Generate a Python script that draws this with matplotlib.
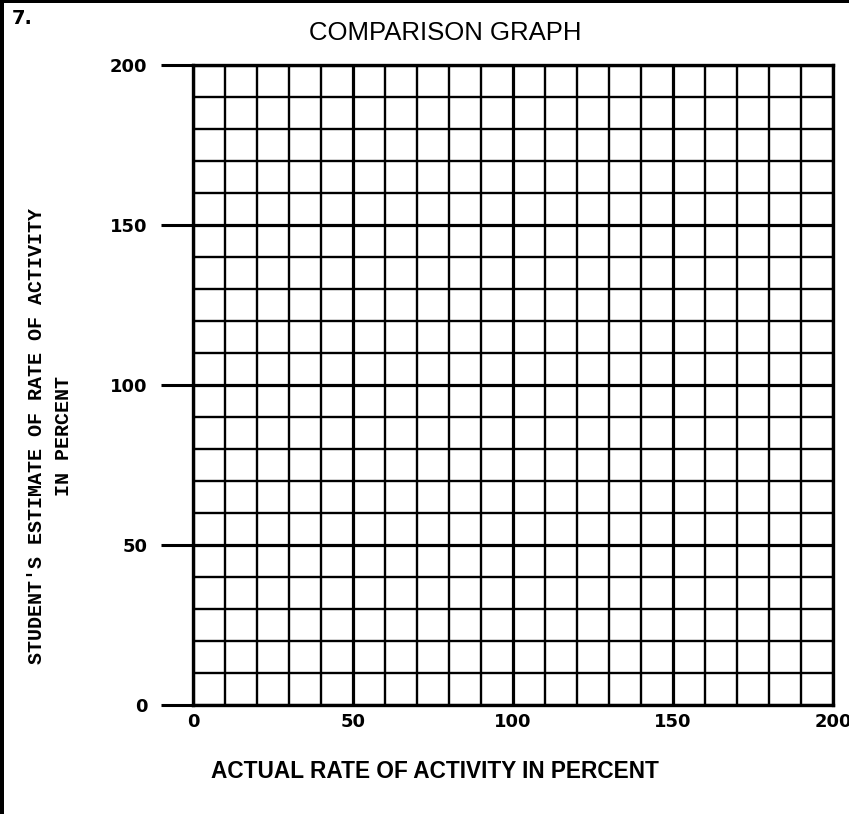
import numpy as np
import matplotlib.pyplot as plt
from matplotlib.patches import Rectangle

# Ejes y marcas del papel cuadriculado
x_major = [0, 50, 100, 150, 200]
y_major = [0, 50, 100, 150, 200]
x_minor = list(range(0, 201, 10))
y_minor = list(range(0, 201, 10))
x_labels = ["0", "50", "100", "150", "200"]
y_labels = ["0", "50", "100", "150", "200"]

title = "COMPARISON GRAPH"
xlabel = "ACTUAL RATE OF ACTIVITY IN PERCENT"
ylabel = "STUDENT'S ESTIMATE OF RATE OF ACTIVITY\nIN PERCENT"
number = "7."

W, H = 849, 814
fig = plt.figure(figsize=(W / 100, H / 100), dpi=100)
ax = fig.add_axes([193 / W, 1 - 705 / H, 640 / W, 640 / H])

ax.set_xlim(x_major[0], x_major[-1])
ax.set_ylim(y_major[0], y_major[-1])
ax.set_xticks(x_major, x_labels)
ax.set_yticks(y_major, y_labels)
ax.set_xticks(x_minor, minor=True)
ax.set_yticks(y_minor, minor=True)

ax.grid(which='minor', color='black', lw=1.7)
ax.grid(which='major', color='black', lw=2.3)
ax.set_axisbelow(False)

ax.tick_params(axis='x', which='both', length=0, pad=6, labelsize=13)
ax.tick_params(axis='y', which='major', length=23, width=2.2, pad=10,
               labelsize=13)
ax.tick_params(axis='y', which='minor', length=0)
for lab in ax.get_xticklabels() + ax.get_yticklabels():
    lab.set_fontweight('bold')
for sp in ax.spines.values():
    sp.set_linewidth(2.4)

# Textos
fig.text(445 / W, 1 - 33 / H, title, ha='center', va='center',
         fontsize=18.5, family='Liberation Sans')
fig.text(435 / W, 1 - 772 / H, xlabel, ha='center', va='center',
         fontsize=16.3, family='Liberation Sans', weight='bold')
fig.text(50 / W, 1 - 436 / H, ylabel, ha='center', va='center',
         rotation=90, fontsize=14.4, family='Liberation Mono', weight='bold',
         multialignment='center', linespacing=1.5)
fig.text(12 / W, 1 - 18 / H, number, ha='left', va='center', fontsize=14,
         weight='bold')

# Borde del recuadro
fig.add_artist(Rectangle((0, 0), 4 / W, 1, transform=fig.transFigure,
                         color='black', lw=0))
fig.add_artist(Rectangle((0, 1 - 3 / H), 1, 3 / H, transform=fig.transFigure,
                         color='black', lw=0))

fig.savefig("out.png", dpi=100)
